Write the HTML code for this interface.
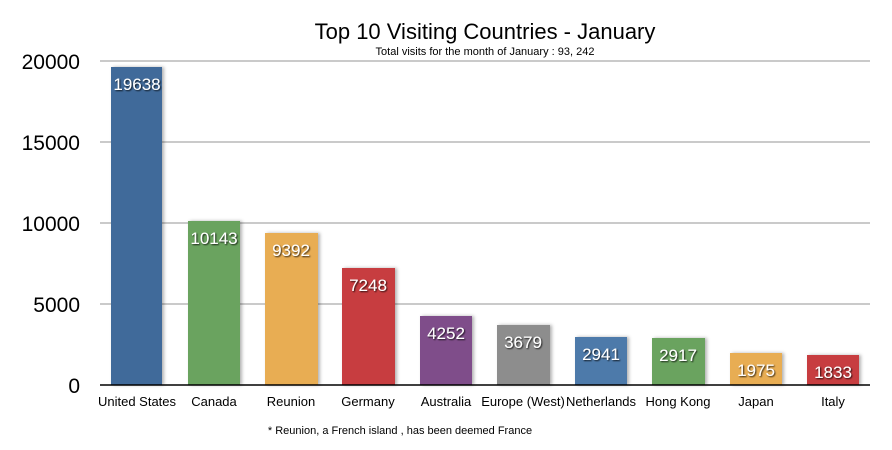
<!DOCTYPE html>
<html><head><meta charset="utf-8"><style>
body{margin:0;background:#fff;}
svg{display:block;font-family:"Liberation Sans",sans-serif;}
.v{fill:#fff;font-size:17px;text-anchor:middle;}
.c{font-size:13px;text-anchor:middle;fill:#000;}
.y{font-size:21px;text-anchor:end;fill:#000;}
</style></head><body>
<svg width="892" height="450" viewBox="0 0 892 450">
<defs>
<filter id="s" x="-20%" y="-20%" width="140%" height="140%"><feDropShadow dx="2" dy="0" stdDeviation="1.5" flood-color="#000" flood-opacity="0.3"/></filter>
<filter id="t"><feDropShadow dx="1" dy="1" stdDeviation="0.8" flood-color="#000" flood-opacity="0.8"/></filter>
</defs>
<text x="485" y="39" font-size="22" text-anchor="middle">Top 10 Visiting Countries - January</text>
<text x="485" y="55" font-size="11" text-anchor="middle">Total visits for the month of January : 93, 242</text>
<g stroke="#aaa" stroke-width="1.2">
<line x1="100" y1="61" x2="870" y2="61"/>
<line x1="100" y1="142" x2="870" y2="142"/>
<line x1="100" y1="223" x2="870" y2="223"/>
<line x1="100" y1="304" x2="870" y2="304"/>
</g>
<text class="y" x="80" y="69">20000</text>
<text class="y" x="80" y="150">15000</text>
<text class="y" x="80" y="231">10000</text>
<text class="y" x="80" y="312">5000</text>
<text class="y" x="80" y="393">0</text>
<g filter="url(#s)">
<rect x="111" y="67" width="51" height="318" fill="#3f6a9a"/>
<rect x="188" y="221" width="52" height="164" fill="#6aa35e"/>
<rect x="265" y="233" width="53" height="152" fill="#e8ad52"/>
<rect x="342" y="268" width="53" height="117" fill="#c73d3f"/>
<rect x="420" y="316" width="52" height="69" fill="#7f4e8a"/>
<rect x="497" y="325" width="53" height="60" fill="#8d8d8d"/>
<rect x="575" y="337" width="52" height="48" fill="#4d7aaa"/>
<rect x="652" y="338" width="53" height="47" fill="#6aa35e"/>
<rect x="730" y="353" width="52" height="32" fill="#e8ad52"/>
<rect x="807" y="355" width="52" height="30" fill="#c73d3f"/>
</g>
<line x1="100" y1="385" x2="870" y2="385" stroke="#000" stroke-width="1.5"/>
<g class="v" filter="url(#t)">
<text class="v" x="137" y="90">19638</text>
<text class="v" x="214" y="244">10143</text>
<text class="v" x="291" y="256">9392</text>
<text class="v" x="368" y="291">7248</text>
<text class="v" x="446" y="339">4252</text>
<text class="v" x="523" y="348">3679</text>
<text class="v" x="601" y="360">2941</text>
<text class="v" x="678" y="361">2917</text>
<text class="v" x="756" y="376">1975</text>
<text class="v" x="833" y="378">1833</text>
</g>
<text class="c" x="137" y="406">United States</text>
<text class="c" x="214" y="406">Canada</text>
<text class="c" x="291" y="406">Reunion</text>
<text class="c" x="368" y="406">Germany</text>
<text class="c" x="446" y="406">Australia</text>
<text class="c" x="523" y="406">Europe (West)</text>
<text class="c" x="601" y="406">Netherlands</text>
<text class="c" x="678" y="406">Hong Kong</text>
<text class="c" x="756" y="406">Japan</text>
<text class="c" x="833" y="406">Italy</text>
<text x="400" y="434" font-size="11" text-anchor="middle">* Reunion, a French island , has been deemed France</text>
</svg>
</body></html>
